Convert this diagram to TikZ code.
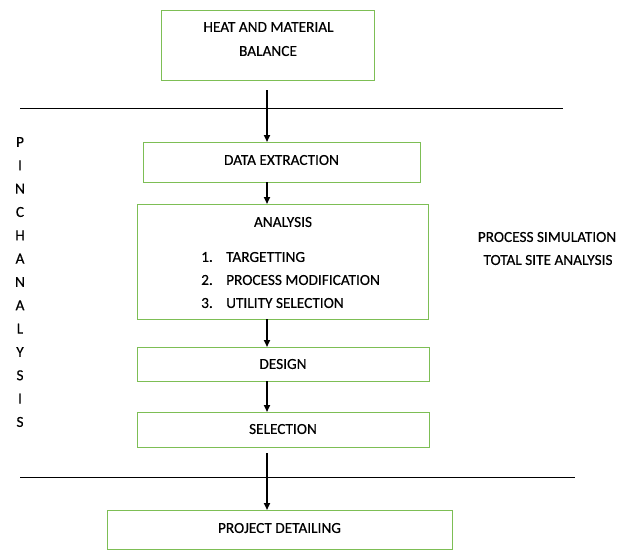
\documentclass[tikz,border=0pt]{standalone}
\usepackage{fontspec}
\setmainfont[FakeBold=0.4]{Carlito}
\usetikzlibrary{arrows.meta}
\definecolor{boxgreen}{RGB}{125,190,85}
\begin{document}
\begin{tikzpicture}[x=1pt,y=-1pt,
  font=\fontsize{15.3}{18}\selectfont,
  gbox/.style={draw=boxgreen,line width=1.4pt,rectangle,inner sep=0pt},
  flow/.style={-{Triangle[length=7pt,width=6pt]},line width=1.8pt},
  sep/.style={line width=1pt}]
\useasboundingbox (0,0) rectangle (626,550);
% boxes
\node[gbox,minimum width=213,minimum height=70,anchor=north west] (hmb) at (161,10) {};
\node (hmbt1) at (268.5,27) {HEAT AND MATERIAL};
\node (hmbt2) at (268,51) {BALANCE};
\node[gbox,minimum width=277,minimum height=40,anchor=north west] (de) at (143,142) {};
\node (det) at (281.5,160) {DATA EXTRACTION};
\node[gbox,minimum width=291,minimum height=115,anchor=north west] (an) at (137,204) {};
\node (ant) at (283,222) {ANALYSIS};
\node[anchor=west,inner sep=0pt] (n1) at (201,257) {1.};
\node[anchor=west,inner sep=0pt] (i1) at (226,257) {TARGETTING};
\node[anchor=west,inner sep=0pt] (n2) at (201,280) {2.};
\node[anchor=west,inner sep=0pt] (i2) at (226,280) {PROCESS MODIFICATION};
\node[anchor=west,inner sep=0pt] (n3) at (201,303) {3.};
\node[anchor=west,inner sep=0pt] (i3) at (226,303) {UTILITY SELECTION};
\node[gbox,minimum width=292,minimum height=34,anchor=north west] (ds) at (137,347) {};
\node (dst) at (283,364) {DESIGN};
\node[gbox,minimum width=292,minimum height=35,anchor=north west] (sel) at (137,412) {};
\node (selt) at (283,429) {SELECTION};
\node[gbox,minimum width=345,minimum height=39,anchor=north west] (pd) at (107,510) {};
\node (pdt) at (279.5,528) {PROJECT DETAILING};
% separators
\coordinate (l1a) at (20,108); \coordinate (l1b) at (563,108);
\coordinate (l2a) at (20,477); \coordinate (l2b) at (575,477);
\draw[sep] (l1a) -- (l1b);
\draw[sep] (l2a) -- (l2b);
% arrows
\coordinate (a1s) at (267,90); \coordinate (a1e) at (267,142);
\coordinate (a5s) at (267,453); \coordinate (a5e) at (267,510);
\draw[flow] (a1s) -- (a1e);
\draw[flow] (267,182) -- (267,204);
\draw[flow] (267,319) -- (267,347);
\draw[flow] (267,381) -- (267,412);
\draw[flow] (a5s) -- (a5e);
% vertical word
\foreach \c [count=\i from 0] in {P,I,N,C,H,A,N,A,L,Y,S,I,S}
  \node (v\i) at (20,142+23.33*\i) {\c};
% right text
\node (ps) at (547,237) {PROCESS SIMULATION};
\node (tsa) at (548,260) {TOTAL SITE ANALYSIS};
\end{tikzpicture}
\end{document}
